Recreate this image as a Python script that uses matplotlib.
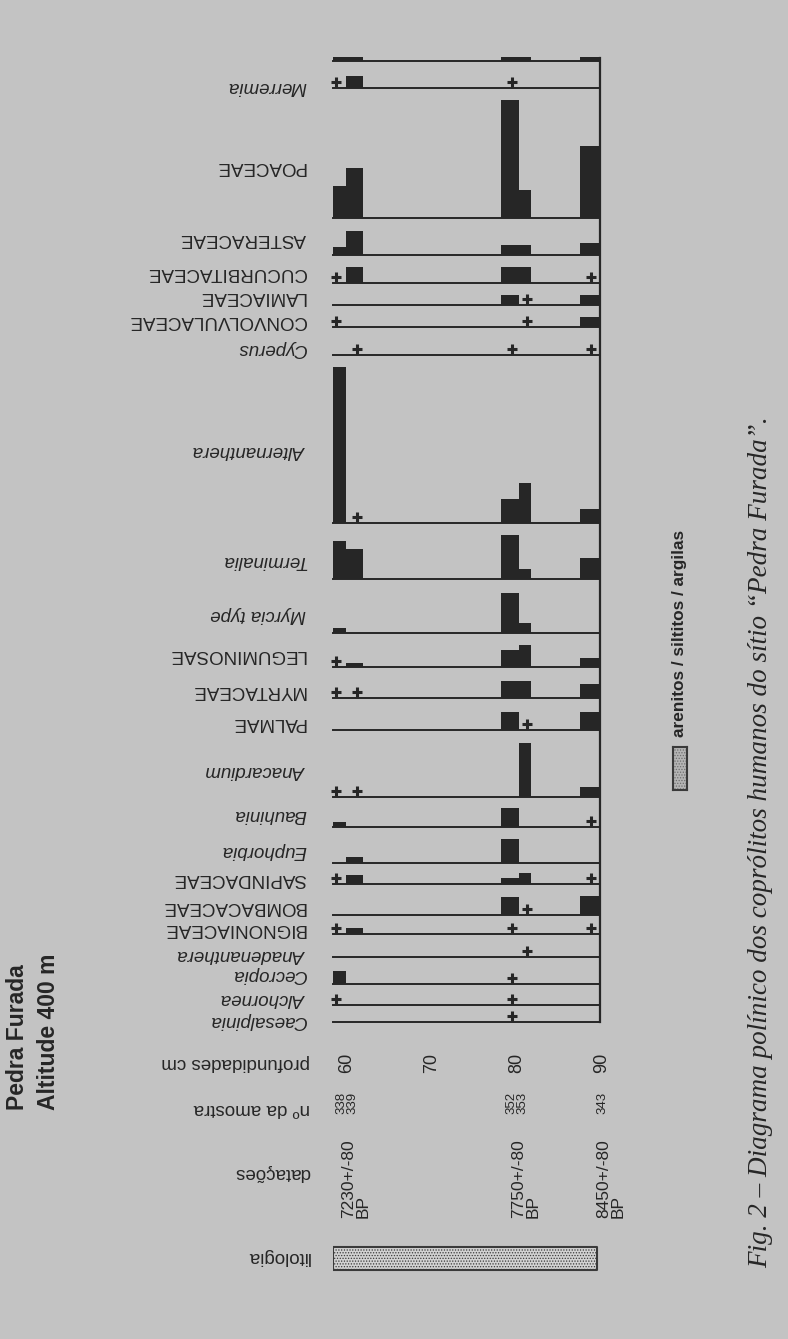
import matplotlib
matplotlib.use("Agg")
import matplotlib.pyplot as plt
import matplotlib.transforms as mtransforms

# ---------------- data ----------------
P = "+"  # presence < 1 % (drawn as a cross)

taxa = ["", "Merremia", "POACEAE", "ASTERACEAE", "CUCURBITACEAE", "LAMIACEAE",
        "CONVOLVULACEAE", "Cyperus", "Alternanthera", "Terminalia", "Myrcia type",
        "LEGUMINOSAE", "MYRTACEAE", "PALMAE", "Anacardium", "Bauhinia", "Euphorbia",
        "SAPINDACEAE", "BOMBACACEAE", "BIGNONIACEAE", "Anadenanthera", "Cecropia",
        "Alchornea", "Caesalpinia"]

samples = ["338", "339", "352", "353", "343"]
sample_depth = [59.1, 60.9, 79.2, 80.9, 88.6]      # cm
cross_depth = [58.7, 61.2, 79.4, 81.2, 88.7]       # cm

# pollen percentages per sample (one value per taxon, same order as taxa)
s338 = [1, P, 8, 2, P, 0, P, 0, 39, 9.5, 1.2, P, P, 0, P, 1.2, 0, P, 0, P, 0, 3.2, P, 0]
s339 = [1, 3, 12.5, 6, 4, 0, 0, P, P, 7.5, 0, 1, P, 0, P, 0, 1.5, 2.2, 0, 1.5, 0, 0, 0, 0]
s352 = [1, P, 29.5, 2.5, 4, 2.5, 0, P, 6, 11, 10, 4.2, 4.2, 4.5, 0, 4.8, 6, 1.5, 4.5, P, 0, P, P, P]
s353 = [1, 0, 7, 2.5, 4, P, P, 0, 10, 2.5, 2.5, 5.5, 4.2, P, 13.5, 0, 0, 2.8, P, 0, P, 0, 0, 0]
s343 = [1, 0, 18, 3, P, 2.5, 2.5, P, 3.5, 5.2, 0, 2.2, 3.5, 4.5, 2.5, P, 0, P, 4.8, P, 0, 0, 0, 0]
sample_values = [s338, s339, s352, s353, s343]

depth_ticks = [60, 70, 80, 90]
sample_groups = ["338\n339", "352\n353", "343"]
group_depth = [60, 80, 90]
dates = ["7230+/-80\nBP", "7750+/-80\nBP", "8450+/-80\nBP"]
date_depth = [60, 80, 90]
lithology = (58.3, 89.4)   # arenitos / siltitos / argilas, depth range in cm

# ---------------- layout / style ----------------
W, H = 788, 1339
BG = "#c3c3c3"
INK = "#262626"
bar_width = [1.5, 2.0, 2.1, 1.4, 2.35]
PX_PER_PCT = 4.0
X0, X1 = 333, 600                      # diagram horizontal extent (px)
D0, D1 = 58.35, 89.76                  # depth range matching X0..X1
baselines = [61, 88, 218, 255, 283, 305, 327, 355, 523, 579, 633, 667, 698, 730,
             797, 827, 863, 884, 915, 934, 957, 984, 1005, 1022]
label_y = [None, 87, 167, 239, 273, 297, 321, 349, 450, 561, 615, 655, 690, 723,
           770, 814, 850, 878, 907, 928, 954, 975, 998, 1020]
italic = {"Merremia", "Cyperus", "Alternanthera", "Terminalia", "Myrcia type",
          "Anacardium", "Bauhinia", "Euphorbia", "Anadenanthera", "Cecropia",
          "Alchornea", "Caesalpinia"}

plt.rcParams["font.family"] = ["Liberation Sans", "DejaVu Sans"]
plt.rcParams["hatch.color"] = "#8c8c8c"
plt.rcParams["hatch.linewidth"] = 0.6


def rect(x0, y0, x1, y1):
    return [x0 / W, 1 - y1 / H, (x1 - x0) / W, (y1 - y0) / H]


fig = plt.figure(figsize=(W / 100, H / 100), dpi=100, facecolor=BG)

# page axes in pixel units (for labels)
pg = fig.add_axes([0, 0, 1, 1])
pg.set_xlim(0, W)
pg.set_ylim(H, 0)
pg.axis("off")
pg.patch.set_alpha(0)

# right vertical frame line
fr = fig.add_axes(rect(X0, 58, X1, baselines[-1]))
fr.patch.set_alpha(0)
for s in ["left", "top", "bottom"]:
    fr.spines[s].set_visible(False)
fr.spines["right"].set_linewidth(1.6)
fr.spines["right"].set_color(INK)
fr.set_xticks([])
fr.set_yticks([])

# one panel per taxon
for i, taxon in enumerate(taxa):
    base = baselines[i]
    top = baselines[i - 1] if i > 0 else 50
    ax = fig.add_axes(rect(X0, top, X1, base))
    ax.patch.set_alpha(0)
    ax.set_xlim(D0, D1)
    ax.set_ylim(0, (base - top) / PX_PER_PCT)
    for s in ["left", "top", "right"]:
        ax.spines[s].set_visible(False)
    ax.spines["bottom"].set_linewidth(1.4)
    ax.spines["bottom"].set_color(INK)
    ax.set_xticks([])
    ax.set_yticks([])
    for j in range(len(samples)):
        v = sample_values[j][i]
        if v == P:
            ax.plot(cross_depth[j], 1.6, marker="+", ms=6.5, mew=2.2,
                    color=INK, clip_on=False)
        elif v > 0:
            ax.bar(sample_depth[j], v, width=bar_width[j], color=INK,
                   linewidth=0, clip_on=False)
    if taxon:
        pg.text(306, label_y[i], taxon, rotation=180, ha="right", va="center",
                fontsize=13.5, color=INK,
                style="italic" if taxon in italic else "normal")

# depth-aligned annotation axes
la = fig.add_axes(rect(X0, 0, X1, H))
la.set_xlim(D0, D1)
la.set_ylim(H, 0)
la.axis("off")
la.patch.set_alpha(0)

for d in depth_ticks:
    la.text(d, 1063, str(d), rotation=90, ha="center", va="center",
            fontsize=13, color=INK)
for g, d in zip(sample_groups, group_depth):
    la.text(d, 1103, g, rotation=90, ha="center", va="center",
            fontsize=9.5, color=INK, linespacing=0.95, multialignment="left")
off = mtransforms.offset_copy(la.transData, fig=fig, x=-6, y=0, units="dots")
for t, d in zip(dates, date_depth):
    la.text(d, 1218, t, rotation=90, ha="left", va="bottom", transform=off,
            fontsize=12.5, color=INK, linespacing=1.0, multialignment="left")
la.fill_between(list(lithology), 1247, 1270, facecolor="#d2d2d2",
                edgecolor="#3a3a3a", hatch="......", linewidth=1.5)

# left column headings
for txt, y in [("profundidades cm", 1062), ("nº da amostra", 1108),
               ("datações", 1173), ("litologia", 1257)]:
    pg.text(310, y, txt, rotation=180, ha="right", va="center",
            fontsize=13.5, color=INK)

# site title
pg.text(33, 1110, "Pedra Furada\nAltitude 400 m", rotation=90, ha="center",
        va="bottom", fontsize=16.5, fontweight="bold", color=INK,
        linespacing=1.4, multialignment="left")

# legend
leg = fig.add_axes(rect(673, 747, 687, 790))
leg.set_xticks([])
leg.set_yticks([])
leg.fill_between([0, 1], 0, 1, facecolor="#b4b4b4", edgecolor="#6e6e6e",
                 hatch="......", linewidth=0)
leg.set_xlim(0, 1)
leg.set_ylim(0, 1)
for s in leg.spines.values():
    s.set_linewidth(1.5)
    s.set_color("#3a3a3a")
pg.text(680, 737, "arenitos / siltitos / argilas", rotation=90, ha="center",
        va="bottom", fontsize=12.4, fontweight="bold", color=INK)

# caption
pg.text(761, 1268, "Fig. 2 – Diagrama polínico dos coprólitos humanos do sítio “Pedra Furada”.",
        rotation=90, ha="center", va="bottom", fontsize=19.5,
        family=["Liberation Serif", "DejaVu Serif"], style="italic", color=INK)

fig.savefig("out.png", dpi=100, facecolor=BG)
